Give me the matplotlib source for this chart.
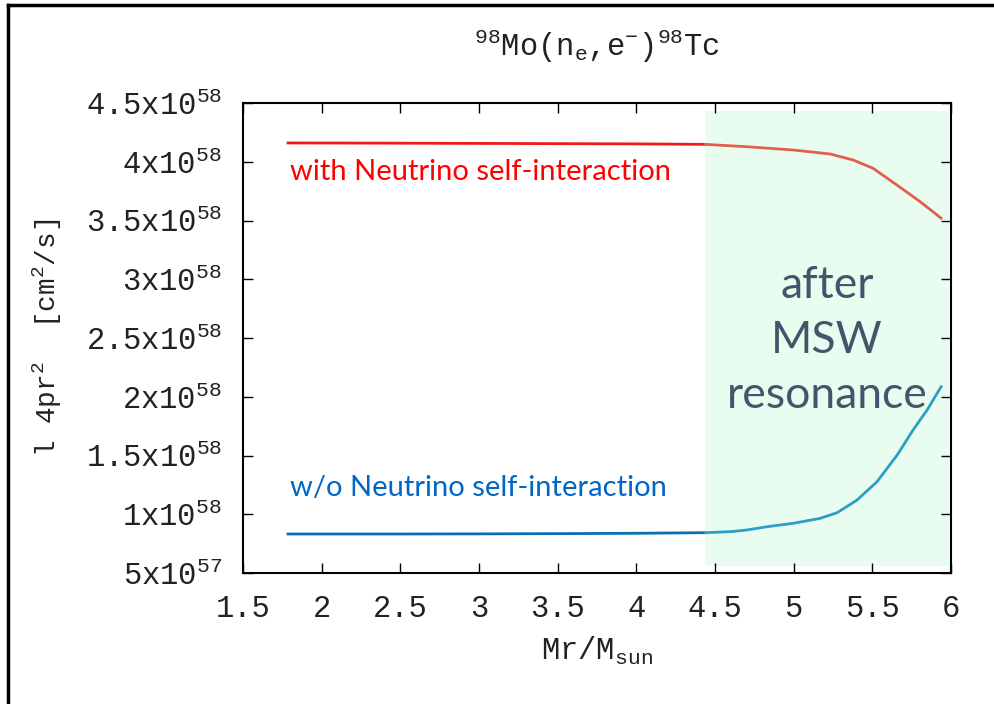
import numpy as np
import matplotlib
matplotlib.use("Agg")
import matplotlib.pyplot as plt
from matplotlib.lines import Line2D

# data
x_with = [1.786, 2.5, 3.0, 3.5, 4.0, 4.437]
y_with = [4.16e58, 4.158e58, 4.156e58, 4.154e58, 4.152e58, 4.148e58]
x_with_r = [4.437, 4.702, 4.997, 5.232, 5.378, 5.505, 5.658, 5.804, 5.937]
y_with_r = [4.148e58, 4.128e58, 4.10e58, 4.066e58, 4.015e58, 3.944e58, 3.80e58, 3.66e58, 3.52e58]

x_wo = [1.786, 2.5, 3.0, 3.5, 4.0, 4.437]
y_wo = [8.32e57, 8.32e57, 8.33e57, 8.35e57, 8.38e57, 8.43e57]
x_wo_r = [4.437, 4.6, 4.702, 4.831, 4.997, 5.168, 5.276, 5.403, 5.53, 5.658, 5.759, 5.848, 5.937]
y_wo_r = [8.43e57, 8.52e57, 8.66e57, 8.94e57, 9.23e57, 9.65e57, 1.013e58, 1.121e58, 1.277e58,
          1.504e58, 1.717e58, 1.887e58, 2.085e58]

xticks = [1.5, 2, 2.5, 3, 3.5, 4, 4.5, 5, 5.5, 6]
xtick_labels = ["1.5", "2", "2.5", "3", "3.5", "4", "4.5", "5", "5.5", "6"]
yticks = [5e57, 1e58, 1.5e58, 2e58, 2.5e58, 3e58, 3.5e58, 4e58, 4.5e58]
ytick_labels = [r"5x10$^{57}$", r"1x10$^{58}$", r"1.5x10$^{58}$", r"2x10$^{58}$", r"2.5x10$^{58}$",
                r"3x10$^{58}$", r"3.5x10$^{58}$", r"4x10$^{58}$", r"4.5x10$^{58}$"]
msw_start = 4.437

mono = "Liberation Mono"
plt.rcParams["mathtext.fontset"] = "custom"
plt.rcParams["mathtext.rm"] = mono
plt.rcParams["mathtext.it"] = mono

fig = plt.figure(figsize=(9.94, 7.04), dpi=100)
ax = fig.add_axes([243/994, 1-573/704, (951-243)/994, (573-103)/704])

ax.axvspan(msw_start, 5.99, ymin=0.015, ymax=0.983, color="#E8FDF0", lw=0, zorder=0)

ax.plot(x_with, y_with, color="#F01818", lw=2)
ax.plot(x_with_r, y_with_r, color="#E0604C", lw=2)
ax.plot(x_wo, y_wo, color="#0A6EB4", lw=2)
ax.plot(x_wo_r, y_wo_r, color="#2C9FC8", lw=2)

ax.set_xlim(1.5, 6)
ax.set_ylim(5e57, 4.5e58)
ax.set_xticks(xticks)
ax.set_xticklabels(xtick_labels, fontfamily=mono, fontsize=22, color="#222222")
ax.set_yticks(yticks)
ax.set_yticklabels(ytick_labels, fontfamily=mono, fontsize=22, color="#222222")
ax.tick_params(direction="in", length=7, width=1, top=True, right=True)
ax.tick_params(axis="x", pad=15)
ax.tick_params(axis="y", pad=15)
for s in ax.spines.values():
    s.set_linewidth(1.5)

ax.set_title(r"$^{98}$Mo(n$_{e}$,e$^{-}$)$^{98}$Tc", fontfamily=mono, fontsize=22, pad=34, color="#222222")
ax.set_xlabel(r"Mr/M$_{\mathrm{sun}}$", fontfamily=mono, fontsize=22, labelpad=8, color="#222222")
ax.set_ylabel(r"l 4pr$^{2}$  [cm$^{2}$/s]", fontfamily=mono, fontsize=20, labelpad=16, color="#222222")

ax.text(1.8, 3.91e58, "with Neutrino self-interaction", fontfamily="Lato", fontsize=21,
        color="#FF0000", va="center", ha="left")
ax.text(1.8, 1.22e58, "w/o Neutrino self-interaction", fontfamily="Lato", fontsize=21,
        color="#0066C8", va="center", ha="left")
ax.text(5.213, 2.48e58, "after\nMSW\nresonance", fontfamily="Lato", fontsize=32,
        color="#44546A", va="center", ha="center", linespacing=1.42)

# figure frame (top and left only)
fig.add_artist(Line2D([8/994, 8/994], [0, 1-5/704], color="black", lw=2.5))
fig.add_artist(Line2D([8/994, 1], [1-5/704, 1-5/704], color="black", lw=2.5))

fig.savefig("out.png", dpi=100)
